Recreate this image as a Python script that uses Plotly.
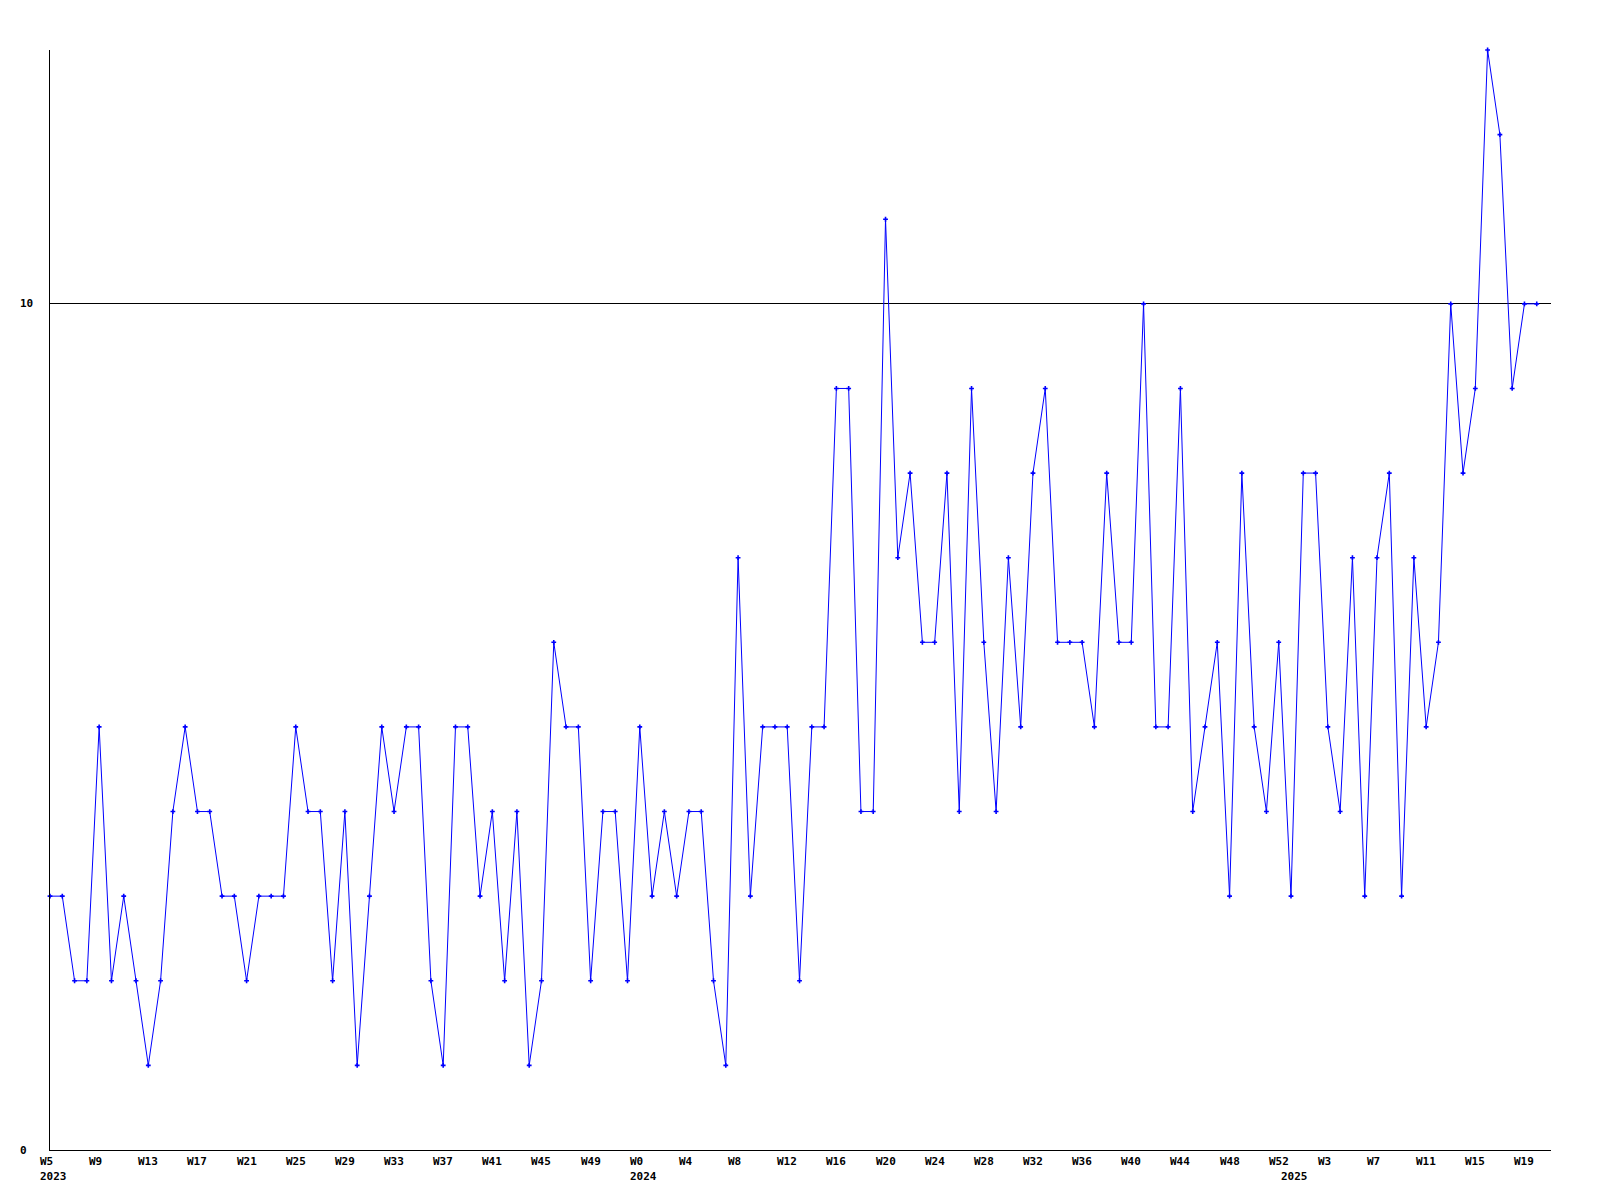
import plotly.graph_objects as go

# Weekly values, 2023 W5 .. 2025 W20
values = [
    3, 3, 2, 2, 5, 2, 3, 2, 1, 2,
    4, 5, 4, 4, 3, 3, 2, 3, 3, 3,
    5, 4, 4, 2, 4, 1, 3, 5, 4, 5,
    5, 2, 1, 5, 5, 3, 4, 2, 4, 1,
    2, 6, 5, 5, 2, 4, 4, 2, 5, 3,
    4, 3, 4, 4, 2, 1, 7, 3, 5, 5,
    5, 2, 5, 5, 9, 9, 4, 4, 11, 7,
    8, 6, 6, 8, 4, 9, 6, 4, 7, 5,
    8, 9, 6, 6, 6, 5, 8, 6, 6, 10,
    5, 5, 9, 4, 5, 6, 3, 8, 5, 4,
    6, 3, 8, 8, 5, 4, 7, 3, 7, 8,
    3, 7, 5, 6, 10, 8, 9, 13, 12, 9,
    10, 10,
]

tick_labels = ["W5", "W9", "W13", "W17", "W21", "W25", "W29", "W33", "W37",
               "W41", "W45", "W49", "W0", "W4", "W8", "W12", "W16", "W20",
               "W24", "W28", "W32", "W36", "W40", "W44", "W48", "W52", "W3",
               "W7", "W11", "W15", "W19"]
tick_step = 4
year_labels = ["2023", "2024", "2025"]
year_index = [0, 48, 101]
y_tick_vals = [0, 10]

x = list(range(len(values)))
FONT = dict(family="DejaVu Sans Mono", size=11, color="black", weight="bold")

fig = go.Figure()
fig.add_trace(go.Scatter(
    x=x, y=values, mode="lines+markers",
    line=dict(color="#0000ff", width=1),
    marker=dict(symbol="cross", size=4, color="#0000ff", line=dict(width=0)),
    cliponaxis=False, showlegend=False,
))

annotations = []
for i, lab in enumerate(tick_labels):
    annotations.append(dict(x=i * tick_step, y=0, xref="x", yref="paper",
                            text=lab, showarrow=False, xanchor="left",
                            yanchor="top", xshift=-12, yshift=-3, font=FONT))
for lab, idx in zip(year_labels, year_index):
    annotations.append(dict(x=idx, y=0, xref="x", yref="paper",
                            text=lab, showarrow=False, xanchor="left",
                            yanchor="top", xshift=-12, yshift=-18, font=FONT))
for v in y_tick_vals:
    annotations.append(dict(x=0, y=v, xref="paper", yref="y",
                            text=str(v), showarrow=False, xanchor="left",
                            yanchor="middle", xshift=-32, font=FONT))

fig.update_layout(
    width=1584, height=1184,
    margin=dict(l=42, r=41, t=42, b=42),
    paper_bgcolor="white", plot_bgcolor="white",
    annotations=annotations,
    xaxis=dict(range=[0, 122.16], showgrid=False, zeroline=False,
               showline=True, linecolor="black", linewidth=1,
               showticklabels=False, ticks=""),
    yaxis=dict(range=[0, 13], tickvals=y_tick_vals, showgrid=True,
               gridcolor="black", gridwidth=1, zeroline=False,
               showline=True, linecolor="black", linewidth=1,
               showticklabels=False, ticks=""),
)

fig.write_html("out.html")
